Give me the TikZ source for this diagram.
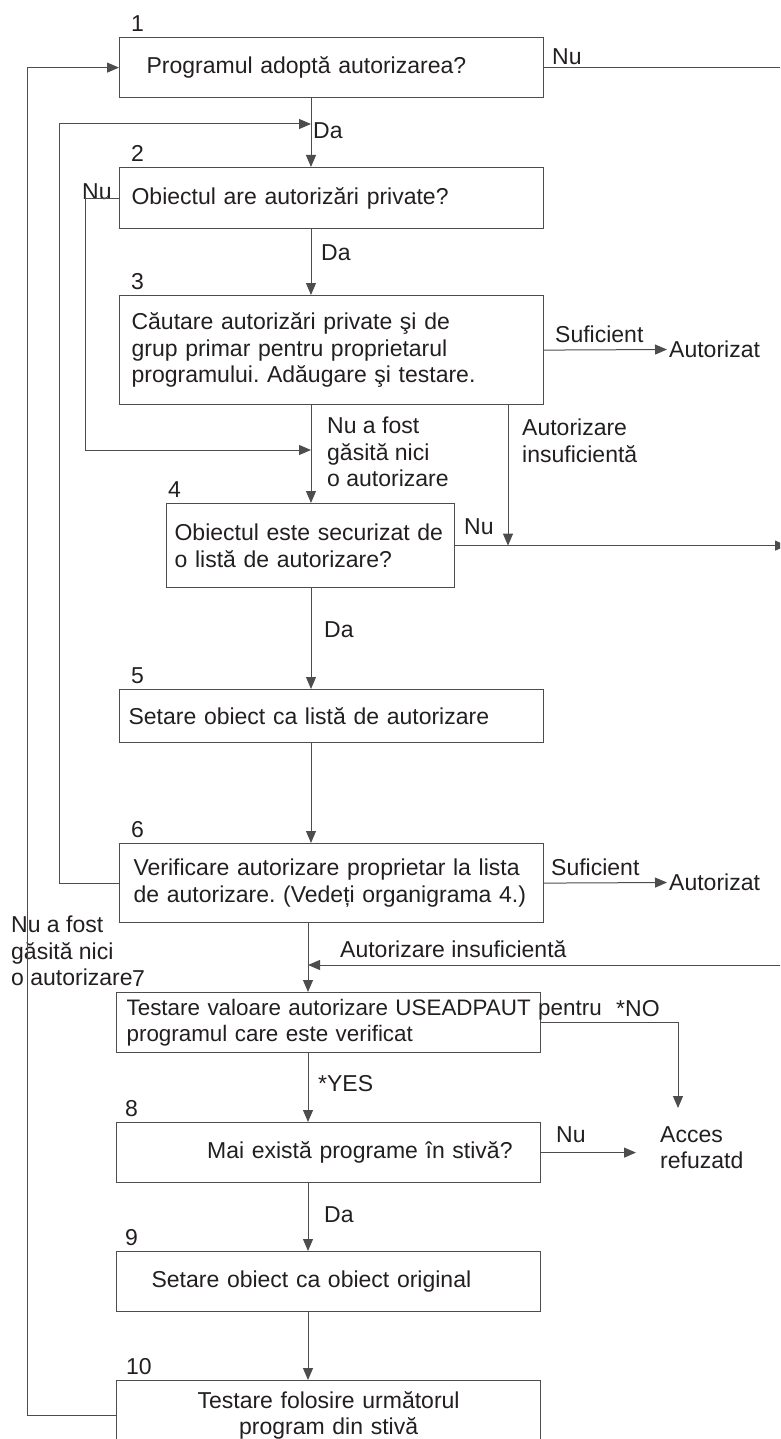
\documentclass[tikz,border=0pt]{standalone}
\usepackage{fontspec}
\setmainfont{Liberation Sans}
\usetikzlibrary{arrows.meta}
\definecolor{lineclr}{HTML}{4D4D4D}
\definecolor{txtclr}{HTML}{231F20}

\begin{document}
\frenchspacing
\begin{tikzpicture}[x=1pt,y=-1pt,>={Triangle[length=12pt,width=10pt]},
    font=\fontsize{23}{26.5}\selectfont,text=txtclr,
    box/.style={draw=lineclr,line width=1.2pt,anchor=north west,align=left,minimum width=424pt,inner ysep=0pt},
    num/.style={anchor=south west,inner sep=0pt,xshift=12pt,yshift=5pt},
    lbl/.style={anchor=west,inner sep=2pt,align=left},
    conn/.style={draw=lineclr,line width=1pt}]
    \clip (0,0) rectangle (780,1439);

    % boxes
    \node[box,minimum height=60pt,inner xsep=27pt,text width=370pt,label={[num]north west:1}] (b1) at (119,37) {Programul adoptă autorizarea?};
    \node[box,minimum height=61pt,inner xsep=12pt,text width=400pt,label={[num]north west:2}] (b2) at (119,167) {Obiectul are autorizări private?};
    \node[box,minimum height=109pt,inner xsep=12pt,text width=400pt,label={[num]north west:3}] (b3) at (119,295) {Căutare autorizări private şi de\\grup primar pentru proprietarul\\programului. Adăugare şi testare.};
    \node[box,minimum width=288pt,minimum height=84pt,inner xsep=8pt,text width=272pt,label={[num,xshift=-10pt]north west:4}] (b4) at (166,503) {Obiectul este securizat de\\o listă de autorizare?};
    \node[box,minimum height=53pt,inner xsep=9pt,text width=406pt,label={[num]north west:5}] (b5) at (119,689) {Setare obiect ca listă de autorizare};
    \node[box,minimum height=79pt,inner xsep=14pt,text width=396pt,label={[num]north west:6}] (b6) at (119,843) {Verificare autorizare proprietar la lista\\de autorizare. (Vedeți organigrama 4.)};
    \node[box,minimum height=60pt,inner xsep=10pt,text width=404pt,font=\fontsize{22.4}{26.5}\selectfont,label={[num,xshift=4pt,font=\fontsize{23}{26.5}\selectfont]north west:7}] (b7) at (116,992) {\makebox[0pt][l]{Testare valoare autorizare USEADPAUT pentru}\\programul care este verificat};
    \node[box,minimum height=60pt,inner xsep=28pt,text width=368pt,align=right,label={[num,xshift=-3pt]north west:8}] (b8) at (116,1122) {Mai există programe în stivă?};
    \node[box,minimum height=60pt,inner xsep=35pt,text width=354pt,label={[num,xshift=-3pt]north west:9}] (b9) at (116,1251) {Setare obiect ca obiect original};
    \node[box,minimum height=70pt,inner xsep=12pt,text width=400pt,align=center,label={[num,xshift=-2pt]north west:10}] (b10) at (116,1380) {Testare folosire următorul\\program din stivă};

    % ends
    \node[lbl] (aut3) at (667,349.5) {Autorizat};
    \node[lbl] (aut6) at (667,882.5) {Autorizat};
    \node[lbl,anchor=north west,inner xsep=24pt,inner ysep=18pt] (acc) at (636,1108) {Acces\\refuzatd};

    \coordinate (spine) at (311,0);
    \coordinate (spineB) at (308,0);
    \coordinate (loopA) at (59,124);
    \coordinate (loopB) at (27,0);
    \coordinate (nuL) at (85,450);
    \coordinate (insX) at (508,0);
    \coordinate (rim) at (787,0);
    \coordinate (ins7) at (787,965);
    \coordinate (noX) at (678,0);

    % labels
    \node[lbl] (nu1) at (550,57) {Nu};
    \node[lbl] (da1) at (311,131) {Da};
    \node[lbl] (nu2) at (80,192) {Nu};
    \node[lbl] (da2) at (319,253) {Da};
    \node[lbl] (suf3) at (553,334) {Suficient};
    \node[lbl] (nf3) at (325,452) {Nu a fost\\găsită nici\\o autorizare};
    \node[lbl] (ins3) at (520,441) {Autorizare\\insuficientă};
    \node[lbl] (nu4) at (462,527) {Nu};
    \node[lbl] (da4) at (322,630) {Da};
    \node[lbl] (suf6) at (549,867) {Suficient};
    \node[lbl] (nf6) at (9,951) {Nu a fost\\găsită nici\\o autorizare};
    \node[lbl] (ins7l) at (338,949) {Autorizare insuficientă};
    \node[lbl] (no7) at (614,1009) {*NO};
    \node[lbl] (yes7) at (316,1084) {*YES};
    \node[lbl] (nu8) at (554,1135) {Nu};
    \node[lbl] (da8) at (322,1215) {Da};

    % connectors
    \foreach \a/\b/\s in {b1/b2/spine,b2/b3/spine,b3/b4/spine,b4/b5/spine,b5/b6/spine,b6/b7/spineB,b7/b8/spineB,b8/b9/spineB,b9/b10/spineB}
        \draw[conn,->] (\a.south -| \s) -- (\b.north -| \s);
    \draw[conn] (b1.east) -- (b1.east -| rim);
    \draw[conn,->] (b10.west) -| (loopB |- b1.west) -- (b1.west);
    \draw[conn,->] (b6.west) -| (loopA) -- (loopA -| spine);
    \draw[conn,->] (b2.west) -| (nuL) -- (nuL -| spine);
    \draw[conn,->] (b3.east) -- (aut3.west);
    \draw[conn,->] (b3.south -| insX) -- (b4.east -| insX);
    \draw[conn,->] (b4.east) -- (b4.east -| rim);
    \draw[conn,->] (b6.east) -- (aut6.west);
    \draw[conn,->] (ins7) -- (ins7 -| spineB);
    \draw[conn,->] (b7.east) -| (noX |- acc.north);
    \draw[conn,->] (b8.east) -- (b8.east -| acc.west);
\end{tikzpicture}
\end{document}
